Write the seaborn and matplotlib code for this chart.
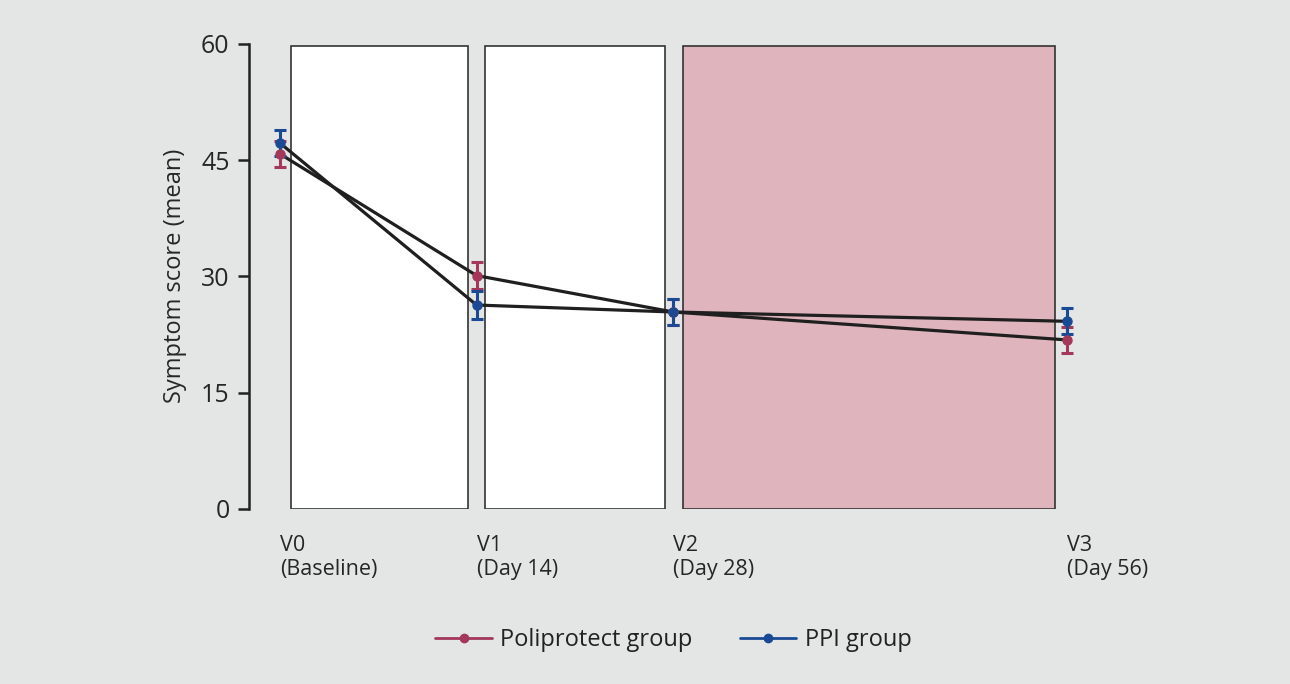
import matplotlib
matplotlib.use("Agg")
import matplotlib.pyplot as plt
import matplotlib.font_manager as fm
from matplotlib.lines import Line2D
from matplotlib.patches import Rectangle
import seaborn as sns
import pandas as pd

# data
visit_days = [0, 14, 28, 56]
visit_labels = ["V0\n(Baseline)", "V1\n(Day 14)", "V2\n(Day 28)", "V3\n(Day 56)"]
poliprotect_mean = [45.8, 30.1, 25.4, 21.8]
poliprotect_err = [1.7, 1.7, 1.7, 1.7]
ppi_mean = [47.2, 26.3, 25.4, 24.2]
ppi_err = [1.7, 1.8, 1.7, 1.7]
groups = ["Poliprotect group", "PPI group"]
colors = {"Poliprotect group": "#A3385B", "PPI group": "#1B4A95"}
# shaded periods between visits (start day, end day, fill)
period_start = [0.8, 14.6, 28.7]
period_end = [13.4, 27.4, 55.2]
period_fill = ["white", "white", "#DFB4BC"]
yticks = [0, 15, 30, 45, 60]

bg = "#E4E6E5"
sns.set_theme(style="white", rc={"axes.facecolor": bg, "figure.facecolor": bg})
names = {f.name for f in fm.fontManager.ttflist}
font = "Liberation Sans Narrow" if "Liberation Sans Narrow" in names else "Open Sans"
plt.rcParams["font.family"] = [font, "DejaVu Sans"]
plt.rcParams["text.color"] = "#222222"

fig = plt.figure(figsize=(12.9, 6.84), dpi=100)
ax = fig.add_axes([0.193, 0.256, 0.66, 0.68])

for s, e, c in zip(period_start, period_end, period_fill):
    ax.add_patch(Rectangle((s, 0), e - s, 59.7, facecolor=c, edgecolor="#333333", linewidth=1.2, zorder=1))

df = pd.DataFrame({
    "day": visit_days * 2,
    "score": poliprotect_mean + ppi_mean,
    "group": [groups[0]] * 4 + [groups[1]] * 4,
})
sns.lineplot(data=df, x="day", y="score", hue="group", palette={g: "#1f1f1f" for g in groups},
             linewidth=2.3, legend=False, ax=ax, zorder=3)

for g, m, err in [(groups[0], poliprotect_mean, poliprotect_err), (groups[1], ppi_mean, ppi_err)]:
    ax.errorbar(visit_days, m, yerr=err, fmt="o", color=colors[g], ms=6.5, elinewidth=2.2,
                capsize=4, capthick=2.2, zorder=4)

ax.set_xlim(-2.2, 58.4)
ax.set_ylim(0, 60)
ax.set_yticks(yticks)
ax.tick_params(axis="y", length=8, width=1.8, color="#222222", labelsize=18, pad=6, left=True)
ax.set_xticks(visit_days)
ax.set_xticklabels(visit_labels, ha="left", fontsize=15.5, linespacing=1.2)
ax.tick_params(axis="x", length=0, pad=19)
ax.set_xlabel("")
ax.set_ylabel("Symptom score (mean)", fontsize=17, labelpad=10)
sns.despine(ax=ax, bottom=True)
ax.spines["left"].set_linewidth(1.8)
ax.spines["left"].set_color("#222222")

handles = [Line2D([0], [0], color=colors[g], marker="o", ms=6, linewidth=2) for g in groups]
fig.legend(handles, groups, loc="center", bbox_to_anchor=(0.522, 0.064), ncol=2, frameon=False,
           fontsize=17, handlelength=2.4, handletextpad=0.35, columnspacing=2.0)

fig.savefig("out.png", dpi=100, facecolor=bg)
